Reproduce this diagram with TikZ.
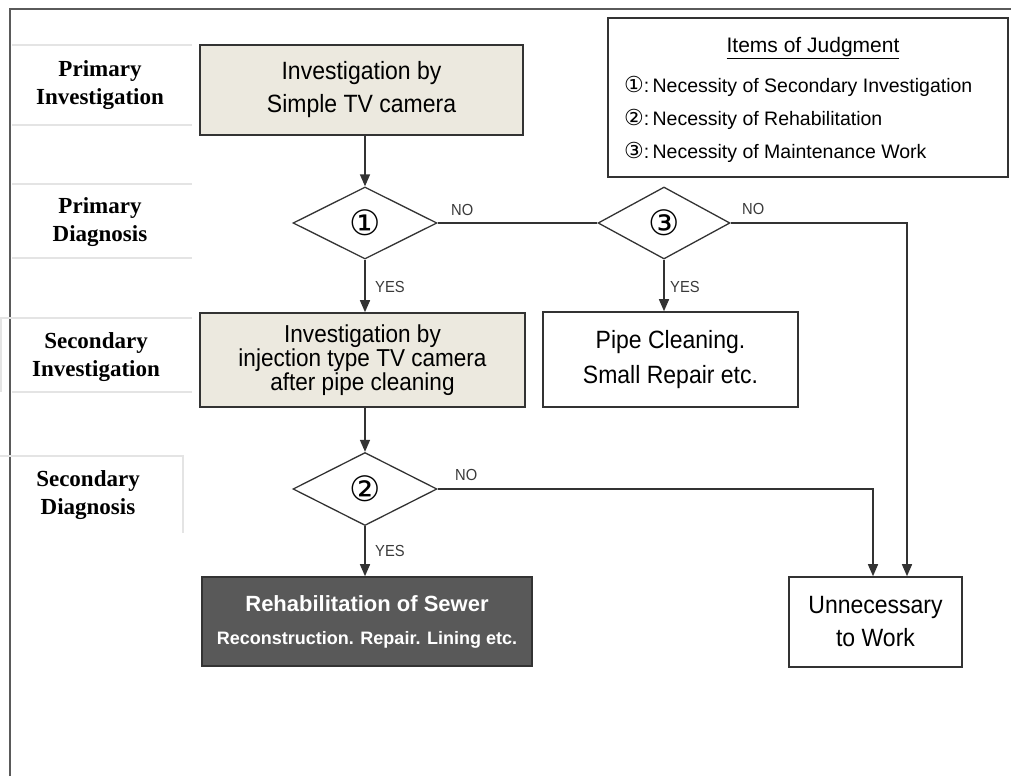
\documentclass[tikz,border=0pt]{standalone}
\usepackage{fontspec}
\setmainfont{Liberation Sans}
\newfontfamily\boxfont[FakeStretch=0.92]{Liberation Sans}
\newfontfamily\labfont{Liberation Serif}
\newfontfamily\symfont{DejaVu Sans}
\usetikzlibrary{shapes.geometric,arrows.meta}
\definecolor{beige}{HTML}{ECE9DF}
\definecolor{darkfill}{HTML}{595959}
\definecolor{edge}{HTML}{333333}
\definecolor{sepgray}{HTML}{E4E4E4}
\definecolor{framegray}{HTML}{5A5A5A}
\definecolor{yesno}{HTML}{3A3A3A}
\begin{document}
\begin{tikzpicture}[x=1pt,y=-1pt,
  box/.style={draw=edge,line width=1.6pt,align=center,inner sep=0pt},
  dia/.style={draw=edge,line width=1.3pt,diamond,inner sep=0pt,aspect=2,font=\symfont\fontsize{35}{35}\selectfont},
  conn/.style={draw=edge,line width=1.5pt},
  arr/.style={conn,-{Triangle[length=12pt,width=10pt]}},
  yn/.style={text=yesno,font=\boxfont\fontsize{16}{16}\selectfont,inner sep=0pt},
  lab/.style={align=center,font=\labfont\bfseries\fontsize{23}{28}\selectfont},
  sep/.style={draw=sepgray,line width=1.5pt},
  frame/.style={draw=framegray,line width=2pt},
  leg/.style={anchor=west,inner sep=0pt,font=\fontsize{19.5}{19.5}\selectfont},
  lsym/.style={}
]
\useasboundingbox (0,0) rectangle (1011,776);
% frame
\draw[frame] (10,776) -- (10,9) -- (1011,9);
% left column separators
\draw[sep] (12,45) -- (192,45);
\draw[sep] (12,125) -- (192,125);
\draw[sep] (12,184) -- (192,184);
\draw[sep] (12,258) -- (192,258);
\draw[sep] (0,318) -- (192,318);
\draw[sep] (12,392) -- (192,392);
\draw[sep] (1,318) -- (1,392);
\draw[sep] (0,456) -- (183,456) -- (183,533);
% left column labels
\node[lab] (l1) at (100,85) {Primary\\Investigation};
\node[lab] (l2) at (100,222) {Primary\\Diagnosis};
\node[lab] (l3) at (96,357) {Secondary\\Investigation};
\node[lab] (l4) at (88,495) {Secondary\\Diagnosis};
% legend
\node[draw=edge,line width=1.6pt,minimum width=400pt,minimum height=159pt,inner sep=0pt] (legend) at (808,97.5) {};
\node[inner sep=0pt,font=\fontsize{21}{21}\selectfont] (legt) at (813,48) {\underline{Items of Judgment}};
\node[leg] (lg1) at (624,86) {{\symfont\fontsize{22}{22}\selectfont ①}:\,Necessity of Secondary Investigation};
\node[leg] (lg2) at (624,119) {{\symfont\fontsize{22}{22}\selectfont ②}:\,Necessity of Rehabilitation};
\node[leg] (lg3) at (624,152) {{\symfont\fontsize{22}{22}\selectfont ③}:\,Necessity of Maintenance Work};
% boxes
\node[box,fill=beige,minimum width=323pt,minimum height=90pt,font=\boxfont\fontsize{25}{33}\selectfont] (b1) at (361.5,90) {Investigation by\\Simple TV camera};
\node[dia,minimum width=144pt,minimum height=72pt] (d1) at (365,223) {①};
\node[dia,minimum width=132pt,minimum height=72pt] (d3) at (664,223) {③};
\node[box,fill=beige,minimum width=325pt,minimum height=94pt,font=\boxfont\fontsize{24.5}{24}\selectfont] (b2) at (362.5,360) {Investigation by\\injection type TV camera\\after pipe cleaning};
\node[box,fill=white,minimum width=255pt,minimum height=95pt,font=\boxfont\fontsize{25}{35}\selectfont] (pc) at (670.5,359.5) {Pipe Cleaning.\\Small Repair etc.};
\node[dia,minimum width=144pt,minimum height=73pt] (d2) at (365,489) {②};
\node[box,fill=darkfill,text=white,minimum width=330pt,minimum height=89pt,font=\bfseries\fontsize{22}{33}\selectfont] (rh) at (367,621.5) {Rehabilitation of Sewer\\{\fontsize{18}{18}\selectfont Reconstruction. Repair. Lining etc.}};
\node[box,fill=white,minimum width=173pt,minimum height=90pt,font=\boxfont\fontsize{25}{33}\selectfont] (un) at (875.5,622) {Unnecessary\\to Work};
% connectors
\draw[arr] (b1.south -| d1.north) -- (d1.north);
\draw[arr] (d1.south) -- (d1.south |- b2.north);
\draw[arr] (b2.south -| d2.north) -- (d2.north);
\draw[arr] (d2.south) -- (d2.south |- rh.north);
\draw[arr] (d3.south) -- (d3.south |- pc.north);
\draw[conn] (d1.east) -- (d3.west);
\coordinate (c3) at (907,223);
\coordinate (c2) at (873,489);
\draw[arr] (d3.east) -- (c3) -- (c3 |- un.north);
\draw[arr] (d2.east) -- (c2) -- (c2 |- un.north);
% yes/no labels
\node[yn,anchor=west] (no1) at (451,210) {NO};
\node[yn,anchor=west] (no3) at (742,209) {NO};
\node[yn,anchor=west] (no2) at (455,475) {NO};
\node[yn,anchor=west] (y1) at (375,287) {YES};
\node[yn,anchor=west] (y3) at (670,287) {YES};
\node[yn,anchor=west] (y2) at (375,551) {YES};
\end{tikzpicture}
\end{document}
